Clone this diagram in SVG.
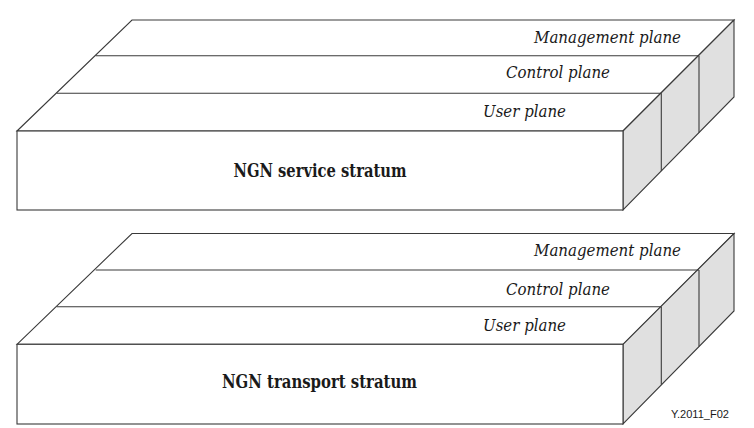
<svg xmlns="http://www.w3.org/2000/svg" width="754" height="428" viewBox="0 0 754 428">
<style>
.ln{fill:none;stroke:#3a3a3a;stroke-width:1.1;stroke-linejoin:miter}
.face{fill:#ffffff;stroke:#3a3a3a;stroke-width:1.1}
.side{fill:#e0e0e0;stroke:#3a3a3a;stroke-width:1.1}
.pl{font-family:'DejaVu Serif',serif;font-style:italic;font-size:17px;fill:#1a1a1a;text-anchor:end}
.st{font-family:'DejaVu Serif',serif;font-weight:bold;font-size:18px;fill:#1a1a1a;text-anchor:middle}
.id{font-family:'Liberation Sans',Arial,sans-serif;font-size:11.5px;fill:#1a1a1a}
</style>
<rect width="754" height="428" fill="#ffffff"/>
<g id="service-stratum">
<polygon class="face" points="17,131 132,20 734,20 623,131"/>
<polygon class="side" points="623,131 734,20 734,97 623,210"/>
<rect class="face" x="17" y="131" width="606" height="79"/>
<line class="ln" x1="95.7" y1="55.7" x2="699" y2="55.7"/>
<line class="ln" x1="56.7" y1="93.3" x2="661.3" y2="93.3"/>
<line class="ln" x1="699" y1="55.7" x2="699" y2="132.6"/>
<line class="ln" x1="661.3" y1="93.3" x2="661.3" y2="171"/>
<text class="pl" x="681" y="42.7" textLength="147" lengthAdjust="spacingAndGlyphs">Management plane</text>
<text class="pl" x="610" y="77.7" textLength="104" lengthAdjust="spacingAndGlyphs">Control plane</text>
<text class="pl" x="566" y="116.7" textLength="83" lengthAdjust="spacingAndGlyphs">User plane</text>
<text class="st" x="320" y="176.7" textLength="173" lengthAdjust="spacingAndGlyphs">NGN service stratum</text>
</g>
<g id="transport-stratum">
<polygon class="face" points="17,344.3 132,233.5 734,233.5 623,344.3"/>
<polygon class="side" points="623,344.3 734,233.5 734,311 623,424"/>
<rect class="face" x="17" y="344.3" width="606" height="79.7"/>
<line class="ln" x1="95.7" y1="270" x2="699" y2="270"/>
<line class="ln" x1="56.7" y1="306.7" x2="661.3" y2="306.7"/>
<line class="ln" x1="699" y1="270" x2="699" y2="346.2"/>
<line class="ln" x1="661.3" y1="306.7" x2="661.3" y2="384.6"/>
<text class="pl" x="681" y="256" textLength="147" lengthAdjust="spacingAndGlyphs">Management plane</text>
<text class="pl" x="610" y="294.5" textLength="104" lengthAdjust="spacingAndGlyphs">Control plane</text>
<text class="pl" x="566" y="331" textLength="83" lengthAdjust="spacingAndGlyphs">User plane</text>
<text class="st" x="319.5" y="388" textLength="195" lengthAdjust="spacingAndGlyphs">NGN transport stratum</text>
</g>
<g id="connectors"></g>
<text class="id" x="671" y="418.3" textLength="58" lengthAdjust="spacingAndGlyphs">Y.2011_F02</text>
</svg>
